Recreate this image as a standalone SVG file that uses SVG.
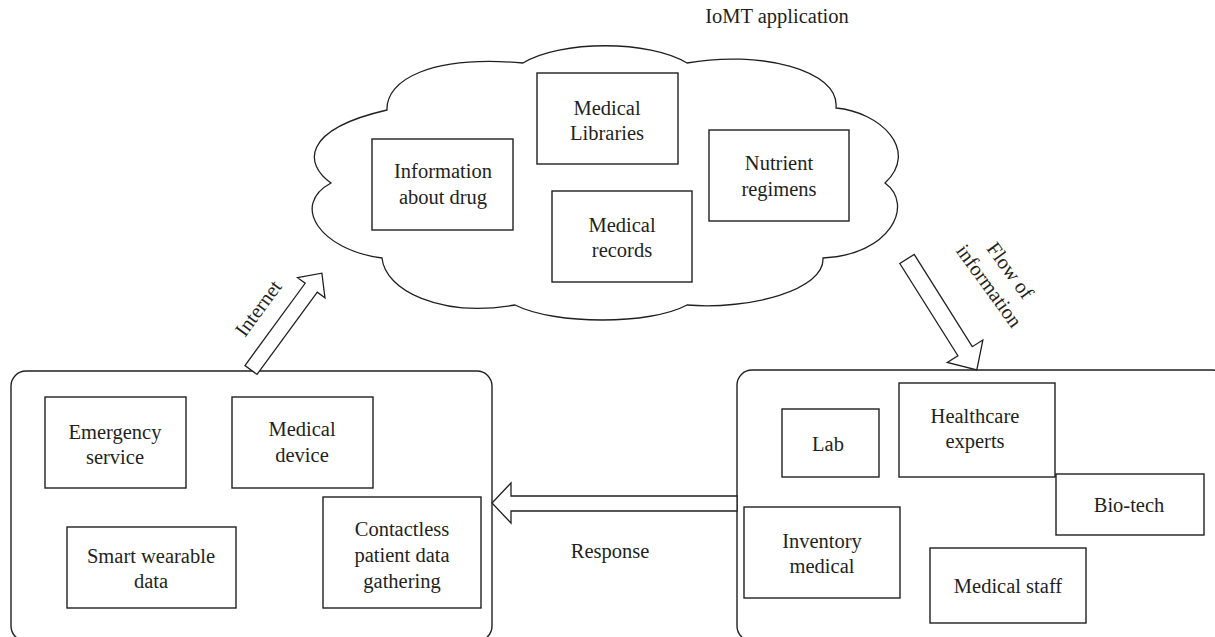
<svg xmlns="http://www.w3.org/2000/svg" width="1215" height="637" viewBox="0 0 1215 637" font-family="'Liberation Serif', 'Times New Roman', serif">
<style>
.ln{fill:#fff;stroke:#231f20;stroke-width:1.3}
.bx{fill:#fff;stroke:#231f20;stroke-width:1.4}
text{font-family:"Liberation Serif","Times New Roman",serif;font-size:20.5px;fill:#231f20;text-anchor:middle}
</style>
<rect width="1215" height="637" fill="#fff"/>
<text x="777" y="23">IoMT application</text>
<g id="cloud">
<path class="ln" d="M331,183 C305,165 300,130 387,110 C386,80 430,55 523,63 C560,40 650,40 687,63 C760,50 840,70 836,108 C880,112 920,150 885,183 C915,205 890,255 823,258 C825,290 750,310 687,305 C650,325 555,325 515,305 C440,318 385,290 382,258 C320,250 290,205 331,183 Z"/>
</g>
<g id="n-libraries"><rect class="bx" x="537" y="73" width="141" height="91"/><text x="607" y="115">Medical</text><text x="607" y="140">Libraries</text></g>
<g id="n-drug"><rect class="bx" x="372" y="139" width="141" height="91"/><text x="443" y="178">Information</text><text x="443" y="204">about drug</text></g>
<g id="n-records"><rect class="bx" x="552" y="191" width="140" height="91"/><text x="622" y="232">Medical</text><text x="622" y="257">records</text></g>
<g id="n-nutrient"><rect class="bx" x="709" y="130" width="140" height="91"/><text x="779" y="170">Nutrient</text><text x="779" y="196">regimens</text></g>

<g id="left-group"><rect class="bx" x="11" y="371" width="481" height="270" rx="15"/></g>
<g id="n-emergency"><rect class="bx" x="45" y="397" width="141" height="91"/><text x="115" y="439">Emergency</text><text x="115" y="464">service</text></g>
<g id="n-device"><rect class="bx" x="232" y="397" width="141" height="91"/><text x="302" y="436">Medical</text><text x="302" y="462">device</text></g>
<g id="n-wearable"><rect class="bx" x="67" y="527" width="169" height="81"/><text x="151" y="563">Smart wearable</text><text x="151" y="588">data</text></g>
<g id="n-contactless"><rect class="bx" x="323" y="497" width="158" height="111"/><text x="402" y="536">Contactless</text><text x="402" y="562">patient data</text><text x="402" y="588">gathering</text></g>

<g id="right-group"><rect class="bx" x="737" y="370" width="490" height="271" rx="15"/></g>
<g id="n-lab"><rect class="bx" x="782" y="409" width="97" height="68"/><text x="828" y="451">Lab</text></g>
<g id="n-experts"><rect class="bx" x="899" y="383" width="156" height="94"/><text x="975" y="423">Healthcare</text><text x="975" y="448">experts</text></g>
<g id="n-biotech"><rect class="bx" x="1056" y="474" width="148" height="61"/><text x="1129" y="512">Bio-tech</text></g>
<g id="n-inventory"><rect class="bx" x="744" y="507" width="156" height="91"/><text x="822" y="548">Inventory</text><text x="822" y="573">medical</text></g>
<g id="n-staff"><rect class="bx" x="930" y="548" width="156" height="75"/><text x="1008" y="593">Medical staff</text></g>

<g id="connectors">
<polygon class="ln" transform="translate(251,370) rotate(-53.8)" points="0,-7.5 102,-7.5 102,-17 120,0 102,17 102,7.5 0,7.5"/>
<polygon class="ln" transform="translate(907,259) rotate(57.8)" points="0,-8.5 109,-8.5 109,-21 131,0 109,21 109,8.5 0,8.5"/>
<polygon class="ln" points="737,496 511,496 511,483 492,503 511,523 511,511 737,511"/>
<text transform="translate(258,308) rotate(-53.8)" dy=".35em">Internet</text>
<g transform="translate(1000,278) rotate(54)"><text y="-13" dy=".35em">Flow of</text><text y="13" dy=".35em">information</text></g>
<text x="610" y="558">Response</text>
</g>
</svg>
